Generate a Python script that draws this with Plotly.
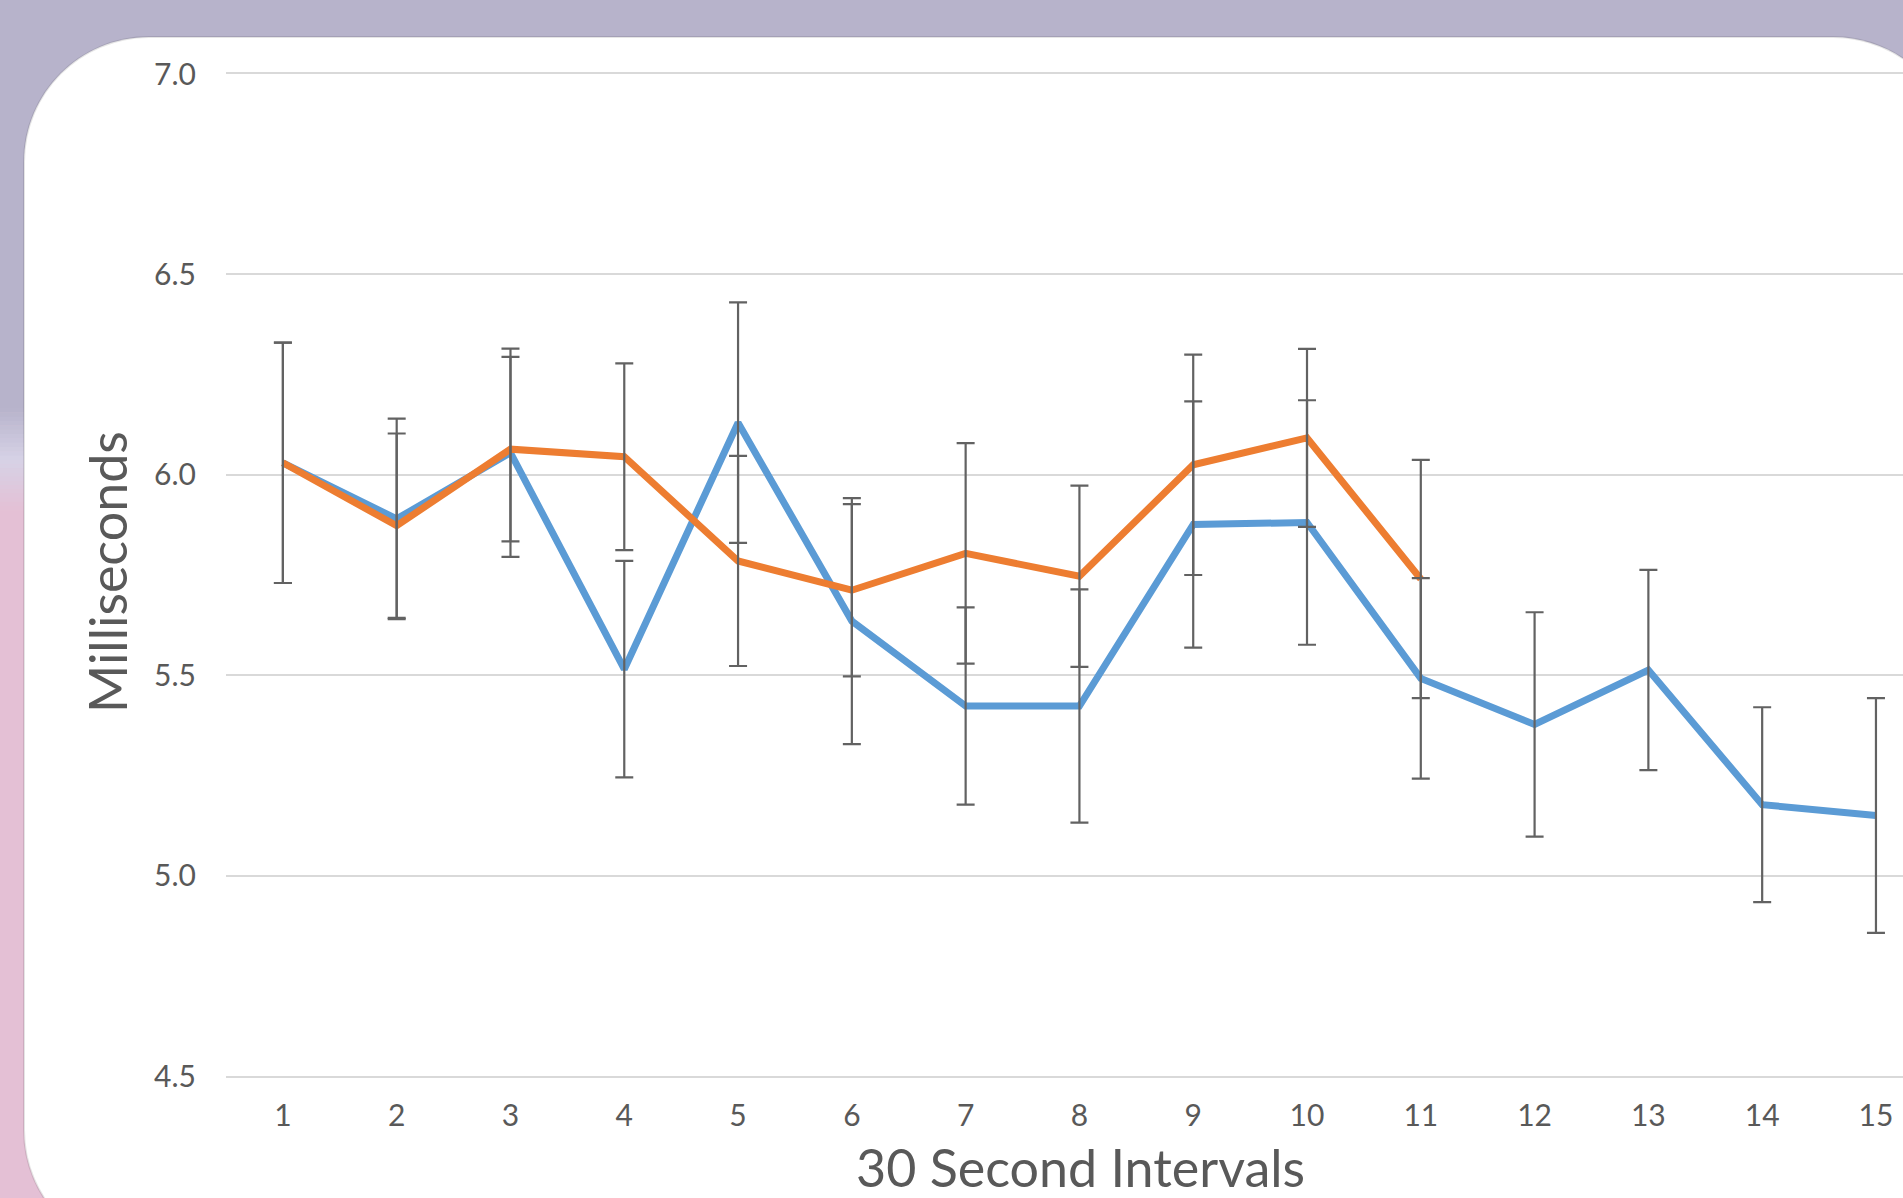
import plotly.graph_objects as go

# ---------------- data ----------------
intervals = list(range(1, 16))
blue_ms = [6.03, 5.89, 6.055, 5.515, 6.13, 5.635, 5.423, 5.423, 5.876, 5.881, 5.492, 5.377, 5.513, 5.177, 5.15]
blue_err = [0.30, 0.25, 0.26, 0.27, 0.30, 0.307, 0.246, 0.291, 0.307, 0.305, 0.25, 0.28, 0.25, 0.243, 0.293]
orange_intervals = list(range(1, 12))
orange_ms = [6.03, 5.873, 6.064, 6.045, 5.785, 5.712, 5.804, 5.747, 6.025, 6.092, 5.74]
orange_err = [0.30, 0.23, 0.23, 0.233, 0.262, 0.215, 0.275, 0.226, 0.275, 0.222, 0.297]
y_ticks = [4.5, 5.0, 5.5, 6.0, 6.5, 7.0]
y_tick_labels = ["4.5", "5.0", "5.5", "6.0", "6.5", "7.0"]
x_title = "30 Second Intervals"
y_title = "Milliseconds"

# ---------------- geometry ----------------
W, H = 1903, 1198
ML, MR, MT, MB = 226, 0, 74, 122
PW, PH = W - ML - MR, H - MT - MB
CAT = 113.79


def px(x):
    return (x - ML) / PW


def py(y):
    return (H - MB - y) / PH


TEXT = "#595959"
FONT = "Lato"
BLUE = "#5B9BD5"
ORANGE = "#ED7D31"
ERR = "#626262"

fig = go.Figure()

fig.add_trace(go.Scatter(x=intervals, y=blue_ms, mode="lines", name="Series 1",
                         line=dict(color=BLUE, width=7), hoverinfo="x+y"))
fig.add_trace(go.Scatter(x=orange_intervals, y=orange_ms, mode="lines", name="Series 2",
                         line=dict(color=ORANGE, width=7), hoverinfo="x+y"))
for xs, ys, es in [(intervals, blue_ms, blue_err), (orange_intervals, orange_ms, orange_err)]:
    fig.add_trace(go.Scatter(x=xs, y=ys, mode="markers", showlegend=False, hoverinfo="skip",
                             marker=dict(size=1, color="rgba(0,0,0,0)"),
                             error_y=dict(type="data", array=es, visible=True,
                                          color=ERR, thickness=2.2, width=9)))

# ---------------- background decoration ----------------
shapes = []
PURPLE = (183, 179, 203)
LAV = (214, 210, 230)
PINK = (228, 192, 213)


def rgb(c):
    return "rgb(%d,%d,%d)" % c


def mix(a, b, t):
    return tuple(int(round(a[i] + (b[i] - a[i]) * t)) for i in range(3))


shapes.append(dict(type="rect", xref="paper", yref="paper", layer="below",
                   x0=px(0), x1=px(W), y0=py(0), y1=py(408),
                   fillcolor=rgb(PURPLE), line=dict(width=0)))
steps = 12
for i in range(steps):
    y0 = 408 + 52 * i / steps
    shapes.append(dict(type="rect", xref="paper", yref="paper", layer="below",
                       x0=px(0), x1=px(W), y0=py(y0), y1=py(y0 + 52 / steps + 0.5),
                       fillcolor=rgb(mix(PURPLE, LAV, (i + 0.5) / steps)), line=dict(width=0)))
for i in range(steps):
    y0 = 460 + 50 * i / steps
    shapes.append(dict(type="rect", xref="paper", yref="paper", layer="below",
                       x0=px(0), x1=px(W), y0=py(y0), y1=py(y0 + 50 / steps + 0.5),
                       fillcolor=rgb(mix(LAV, PINK, (i + 0.5) / steps)), line=dict(width=0)))

# white rounded card
cl, ct, cr, cb, r = 24, 37, 1958, 1255, 125
k = 0.5523 * r


def P(x, y):
    return "%.5f,%.5f" % (px(x), py(y))


path = ("M " + P(cl + r, ct) + " L " + P(cr - r, ct) +
        " C " + P(cr - r + k, ct) + " " + P(cr, ct + r - k) + " " + P(cr, ct + r) +
        " L " + P(cr, cb - r) +
        " C " + P(cr, cb - r + k) + " " + P(cr - r + k, cb) + " " + P(cr - r, cb) +
        " L " + P(cl + r, cb) +
        " C " + P(cl + r - k, cb) + " " + P(cl, cb - r + k) + " " + P(cl, cb - r) +
        " L " + P(cl, ct + r) +
        " C " + P(cl, ct + r - k) + " " + P(cl + r - k, ct) + " " + P(cl + r, ct) + " Z")
shapes.append(dict(type="path", xref="paper", yref="paper", layer="below", path=path,
                   fillcolor="white", line=dict(color="rgba(0,0,0,0.10)", width=2)))

annotations = [
    dict(text=y_title, xref="paper", yref="paper", x=px(107), y=py(572),
         xanchor="center", yanchor="middle", textangle=-90, showarrow=False,
         font=dict(family=FONT, size=52, color=TEXT)),
    dict(text=x_title, xref="paper", yref="paper", x=px(1080), y=py(1200),
         xanchor="center", yanchor="bottom", showarrow=False,
         font=dict(family=FONT, size=52, color=TEXT)),
]

fig.update_layout(
    width=W, height=H,
    margin=dict(l=ML, r=MR, t=MT, b=MB, pad=0),
    paper_bgcolor=rgb(PINK),
    plot_bgcolor="rgba(0,0,0,0)",
    showlegend=False,
    shapes=shapes,
    annotations=annotations,
    font=dict(family=FONT, color=TEXT),
    xaxis=dict(range=[0.5, 0.5 + PW / CAT], tickmode="array", tickvals=intervals,
               ticktext=[str(v) for v in intervals], showgrid=False, zeroline=False,
               showline=True, mirror=True, linecolor="#D9D9D9", linewidth=2, ticks="",
               tickfont=dict(family=FONT, size=30, color=TEXT), ticklabelstandoff=12),
    yaxis=dict(range=[4.5, 7.0], tickmode="array", tickvals=y_ticks, ticktext=y_tick_labels,
               showgrid=True, gridcolor="#D9D9D9", gridwidth=2, zeroline=False,
               showline=False, ticks="",
               tickfont=dict(family=FONT, size=30, color=TEXT), ticklabelstandoff=29),
)

fig.write_html("out.html", config={"displayModeBar": False},
               post_script="document.body.style.margin='0';document.body.style.overflow='hidden';")
